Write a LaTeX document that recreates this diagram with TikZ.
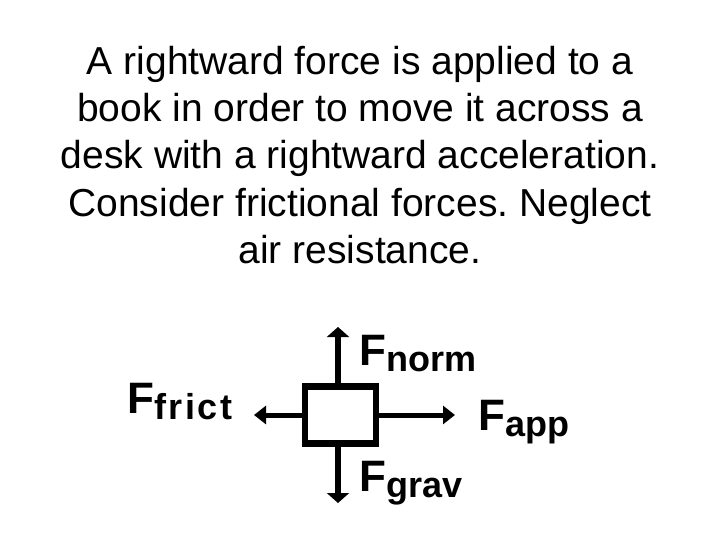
\documentclass[tikz,border=0pt]{standalone}
\usepackage{fontspec}
\setmainfont{Liberation Sans}
\usetikzlibrary{arrows.meta}
\begin{document}
\frenchspacing
\begin{tikzpicture}[x=1pt,y=1pt,
  titletext/.style={anchor=base,inner sep=0pt,font=\fontsize{39}{47}\selectfont},
  flabel/.style={anchor=base west,inner sep=0pt,font=\fontsize{44}{44}\selectfont\bfseries},
  vforce/.style={line width=6.5pt,-{Triangle[length=10pt,width=22pt]}},
  hforce/.style={line width=5pt,-{Triangle[length=12pt,width=18pt]}},
  bookbox/.style={draw,line width=6.5pt,minimum width=71pt,minimum height=56.7pt,inner sep=0pt}]
\useasboundingbox (0,0) rectangle (720,-540);
\newcommand{\subtxt}[1]{\raisebox{-6pt}{\fontsize{36}{36}\selectfont\bfseries #1}}
% title
\node[titletext] (t1) at (360,-75) {A rightward force is applied to a};
\node[titletext] (t2) at (360,-122) {book in order to move it across a};
\node[titletext] (t3) at (360,-169) {desk with a rightward acceleration.};
\node[titletext] (t4) at (360,-217) {Consider frictional forces. Neglect};
\node[titletext] (t5) at (360,-263) {air resistance.};
% box
\node[bookbox] (box) at (340.5,-415) {};
\coordinate (nt) at (338,-327);
\coordinate (gt) at (338,-503);
\coordinate (ft) at (254,-415);
\coordinate (at) at (455,-415);
\draw[vforce] (box.north -| nt) -- (nt);
\draw[vforce] (box.south -| gt) -- (gt);
\draw[hforce] (box.west) -- (ft);
\draw[hforce] (box.east) -- (at);
% labels
\node[flabel] (lnorm) at (359,-365) {F\subtxt{norm}};
\node[flabel] (lfrict) at (127,-413) {F\subtxt{f\kern2.5pt r\kern2.5pt i\kern2.5pt c\kern2.5pt t}};
\node[flabel] (lapp) at (478.5,-430) {F\subtxt{app}};
\node[flabel] (lgrav) at (359,-491) {F\subtxt{grav}};
\end{tikzpicture}
\end{document}
